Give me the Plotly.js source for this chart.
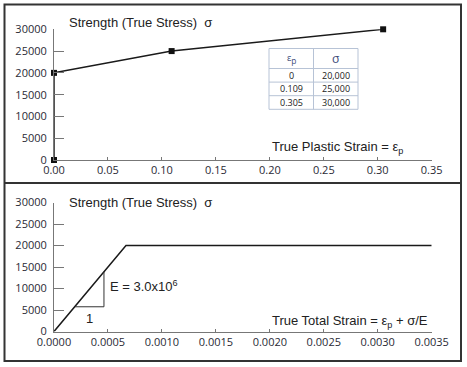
<!DOCTYPE html>
<html>
<head>
<meta charset="utf-8">
<script src="https://cdn.plot.ly/plotly-3.0.1.min.js"></script>
<style>html,body{margin:0;padding:0;background:#fff;}#chart{width:467px;height:367px;}</style>
</head>
<body>
<div id="chart"></div>
<script>
// ---- data ----
var tableStrain = [0, 0.109, 0.305];          // true plastic strain
var tableStress = [20000, 25000, 30000];      // true stress
var tableHeader = ['<span style="font-size:9px">ε</span><sub>p</sub>', 'σ'];
var plasticCurveStrain = [0, 0, 0.109, 0.305];
var plasticCurveStress = [0, 20000, 25000, 30000];
var totalCurveStrain = [0, 0.000667, 0.0035];
var totalCurveStress = [0, 20000, 20000];
var slopeTriStrain = [0.000195, 0.000463, 0.000463];
var slopeTriStress = [5750, 5750, 13900];
var yTicks = [0, 5000, 10000, 15000, 20000, 25000, 30000];

var W = 467, H = 367;
function px(x){ return x / W; }
function py(y){ return 1 - y / H; }

var tickFont = {family: 'Open Sans, sans-serif', size: 11, color: '#2a2a35'};
var labFont = {family: 'Liberation Sans, Arial, sans-serif', size: 13, color: '#222'};

function fmtStrain(v){ return v === 0 ? '0' : v.toFixed(3); }
function fmtStress(v){ return v.toLocaleString('en-US'); }

var traces = [
  {x: plasticCurveStrain, y: plasticCurveStress, xaxis: 'x', yaxis: 'y', type: 'scatter',
   mode: 'lines+markers', line: {color: '#1a1a1a', width: 1.5},
   marker: {symbol: 'square', size: 6, color: '#111'}, cliponaxis: false, hoverinfo: 'none'},
  {x: totalCurveStrain, y: totalCurveStress, xaxis: 'x2', yaxis: 'y2', type: 'scatter',
   mode: 'lines', line: {color: '#1a1a1a', width: 1.5}, cliponaxis: false, hoverinfo: 'none'},
  {x: slopeTriStrain, y: slopeTriStress, xaxis: 'x2', yaxis: 'y2', type: 'scatter',
   mode: 'lines', line: {color: '#333', width: 1}, hoverinfo: 'none'}
];

function yax(dom){
  return {domain: dom, range: [0, 30000], tickvals: yTicks, tickformat: 'd',
    showline: true, linecolor: '#777', linewidth: 1, ticks: 'inside', ticklen: 10,
    tickcolor: '#777', tickwidth: 1, showgrid: false, zeroline: false,
    tickfont: tickFont, ticklabelstandoff: 4, fixedrange: true};
}
function xax(dtick, fmt, anchor){
  return {domain: [px(54), px(431.7)], range: [0, dtick * 7], dtick: dtick, tick0: 0,
    tickformat: fmt, anchor: anchor, showline: true, linecolor: '#777', linewidth: 1,
    ticks: 'inside', ticklen: 3, tickcolor: '#777', showgrid: false, zeroline: false,
    tickfont: tickFont, ticklabelstandoff: 0, fixedrange: true};
}

var shapes = [
  {type: 'rect', xref: 'paper', yref: 'paper', x0: px(4.5), x1: px(461), y0: py(361), y1: py(4.5),
   line: {color: '#333', width: 2}},
  {type: 'line', xref: 'paper', yref: 'paper', x0: px(4.5), x1: px(461), y0: py(183), y1: py(183),
   line: {color: '#333', width: 2}}
];

var annotations = [
  {xref: 'paper', yref: 'paper', x: px(67), y: py(22), xanchor: 'left', yanchor: 'middle',
   text: 'Strength (True Stress)  σ', showarrow: false, font: labFont},
  {xref: 'paper', yref: 'paper', x: px(270), y: py(147), xanchor: 'left', yanchor: 'middle',
   text: 'True Plastic Strain = ε<sub>p</sub>', showarrow: false, font: labFont},
  {xref: 'paper', yref: 'paper', x: px(67), y: py(202), xanchor: 'left', yanchor: 'middle',
   text: 'Strength (True Stress)  σ', showarrow: false, font: labFont},
  {xref: 'paper', yref: 'paper', x: px(270), y: py(321), xanchor: 'left', yanchor: 'middle',
   text: 'True Total Strain = ε<sub>p</sub> + σ/E', showarrow: false, font: labFont},
  {xref: 'paper', yref: 'paper', x: px(108), y: py(286), xanchor: 'left', yanchor: 'middle',
   text: 'E = 3.0x10<sup>6</sup>', showarrow: false, font: labFont},
  {xref: 'paper', yref: 'paper', x: px(89), y: py(318), xanchor: 'center', yanchor: 'middle',
   text: '1', showarrow: false, font: labFont}
];

// ---- inset table built from the data arrays ----
var tbl = {x0: 269, x1: 358, y0: 48.5, headH: 20, rowH: 13.6};
var colX = [tbl.x0, (tbl.x0 + tbl.x1) / 2, tbl.x1];
var rowY = [tbl.y0, tbl.y0 + tbl.headH];
for (var r = 0; r < tableStrain.length; r++) rowY.push(rowY[rowY.length - 1] + tbl.rowH);
var gridCol = '#b7c3d6';
rowY.forEach(function(y){
  shapes.push({type: 'line', xref: 'paper', yref: 'paper', x0: px(tbl.x0), x1: px(tbl.x1),
    y0: py(y), y1: py(y), line: {color: gridCol, width: 1}});
});
colX.forEach(function(x){
  shapes.push({type: 'line', xref: 'paper', yref: 'paper', x0: px(x), x1: px(x),
    y0: py(rowY[0]), y1: py(rowY[rowY.length - 1]), line: {color: gridCol, width: 1}});
});
var headFont = {family: 'Open Sans, sans-serif', size: 12, color: '#3b4a78'};
var cellFont = {family: 'Open Sans, sans-serif', size: 9, color: '#1a1a1a'};
tableHeader.forEach(function(h, c){
  annotations.push({xref: 'paper', yref: 'paper', x: px((colX[c] + colX[c + 1]) / 2),
    y: py((rowY[0] + rowY[1]) / 2), xanchor: 'center', yanchor: 'middle', showarrow: false,
    text: h, font: headFont});
});
var cols = [tableStrain.map(fmtStrain), tableStress.map(fmtStress)];
cols.forEach(function(vals, c){
  vals.forEach(function(v, r){
    annotations.push({xref: 'paper', yref: 'paper', x: px((colX[c] + colX[c + 1]) / 2),
      y: py((rowY[r + 1] + rowY[r + 2]) / 2), xanchor: 'center', yanchor: 'middle', showarrow: false,
      text: v, font: cellFont});
  });
});

var layout = {
  width: W, height: H, margin: {l: 0, r: 0, t: 0, b: 0},
  paper_bgcolor: '#fff', plot_bgcolor: 'rgba(0,0,0,0)', showlegend: false,
  xaxis: xax(0.05, '.2f', 'y'),
  yaxis: yax([py(160), py(29.3)]),
  xaxis2: xax(0.0005, '.4f', 'y2'),
  yaxis2: yax([py(331.5), py(202.5)]),
  shapes: shapes,
  annotations: annotations
};

Plotly.newPlot('chart', traces, layout, {staticPlot: true, displayModeBar: false});
</script>
</body>
</html>
